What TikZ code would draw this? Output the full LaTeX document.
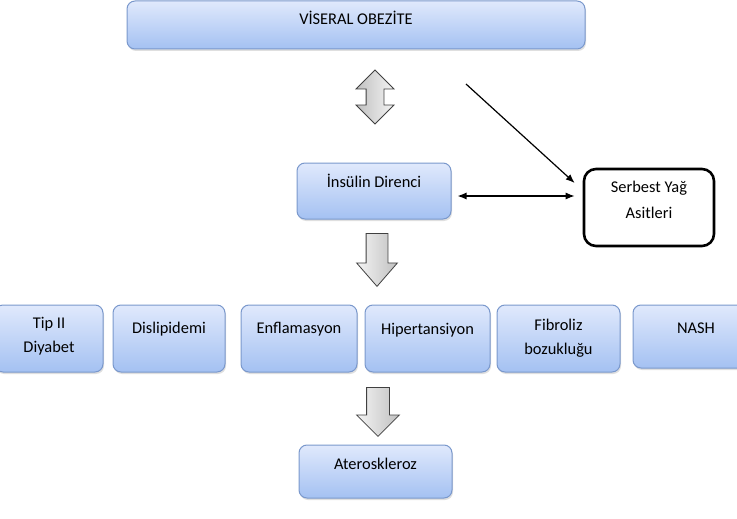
\documentclass[tikz,border=0pt]{standalone}
\usepackage{fontspec}
\setmainfont{Carlito}
\usetikzlibrary{shapes.arrows, arrows.meta, positioning, calc, shadows}

\definecolor{boxtop}{RGB}{224,233,252}
\definecolor{boxbot}{RGB}{164,193,242}
\definecolor{boxline}{RGB}{122,152,204}
\definecolor{arrlight}{RGB}{244,244,244}
\definecolor{arrdark}{RGB}{192,192,192}

\tikzset{
  box/.style={rectangle, rounded corners=8pt, draw=boxline, line width=1pt,
    top color=boxtop, bottom color=boxbot, inner sep=0pt,
    drop shadow={opacity=0.25, shadow xshift=1pt, shadow yshift=-2pt}},
  fatbox/.style={rectangle, rounded corners=12pt, draw=black, line width=2.6pt,
    fill=white, inner sep=0pt},
  txt/.style={anchor=base, align=center, inner sep=0pt},
  downarr/.style={single arrow, rotate=-90, anchor=tail, draw=black!75, line width=0.8pt,
    left color=arrlight, right color=arrdark, inner xsep=0pt},
  updownarr/.style={double arrow, rotate=90, draw=black!75, line width=0.8pt,
    left color=arrdark, right color=arrlight, inner xsep=0pt},
  link/.style={line width=1.2pt},
}

\begin{document}
\begin{tikzpicture}[x=1pt, y=-1pt, font=\fontsize{16.4}{24}\selectfont, >={Latex[length=9pt,width=7pt]}]
  \useasboundingbox (0,0) rectangle (737,519);

  % ust kutu
  \node[box, minimum width=458pt, minimum height=48pt] (obez) at (356,25) {};
  \node[txt] (obezT) at ([yshift=-24pt]obez.north) {VİSERAL OBEZİTE};

  \node[updownarr, minimum height=54pt, inner ysep=8.5pt,
    double arrow head extend=10pt] (ok1) at (375,97) {};

  % insulin direnci ve serbest yag asitleri
  \node[box, minimum width=154pt, minimum height=56pt] (ins) at (374,191) {};
  \node[txt] (insT) at ([yshift=-25pt]ins.north) {İnsülin Direnci};

  \node[fatbox, minimum width=130pt, minimum height=77pt] (fat) at (649,207.5) {};
  \node[txt] (fatT) at ([yshift=-51pt]fat.north) {Serbest Yağ\\[2pt]Asitleri};

  \coordinate (c1) at (466,84);
  \draw[link,->] (c1) -- ($(fat.west)+(-8,-24.5)$);
  \draw[link,<->] ($(ins.east)+(6,5)$) -- ($(ins.east -| fat.west)+(-8,5)$);

  \node[downarr, minimum height=53pt, inner ysep=10.5pt,
    single arrow head extend=9.5pt, single arrow tip angle=82] (ok2) at (377,233) {};

  % sonuclar
  \node[box, minimum width=108pt, minimum height=67pt] (tip) at (49,338.5) {};
  \node[txt] (tipT) at ([yshift=-48pt]tip.north) {Tip II\\Diyabet};

  \node[box, minimum width=112pt, minimum height=67pt] (dis) at (169,338.5) {};
  \node[txt] (disT) at ([yshift=-29pt]dis.north) {Dislipidemi};

  \node[box, minimum width=116pt, minimum height=67pt] (enf) at (299,338.5) {};
  \node[txt] (enfT) at ([yshift=-29pt]enf.north) {Enflamasyon};

  \node[box, minimum width=125pt, minimum height=67pt] (hip) at (427.5,338.5) {};
  \node[txt] (hipT) at ([yshift=-30pt]hip.north) {Hipertansiyon};

  \node[box, minimum width=123pt, minimum height=67pt] (fib) at (558.5,338.5) {};
  \node[txt] (fibT) at ([yshift=-50pt]fib.north) {Fibroliz\\bozukluğu};

  \node[box, minimum width=126pt, minimum height=63pt] (nash) at (696,336.5) {};
  \node[txt] (nashT) at ([yshift=-29pt]nash.north) {NASH};

  \node[downarr, minimum height=49pt, inner ysep=11pt,
    single arrow head extend=10pt] (ok3) at (378,387) {};

  % en alt
  \node[box, minimum width=153pt, minimum height=53pt] (ath) at (375.5,471.5) {};
  \node[txt] (athT) at ([yshift=-25pt]ath.north) {Ateroskleroz};
\end{tikzpicture}
\end{document}
